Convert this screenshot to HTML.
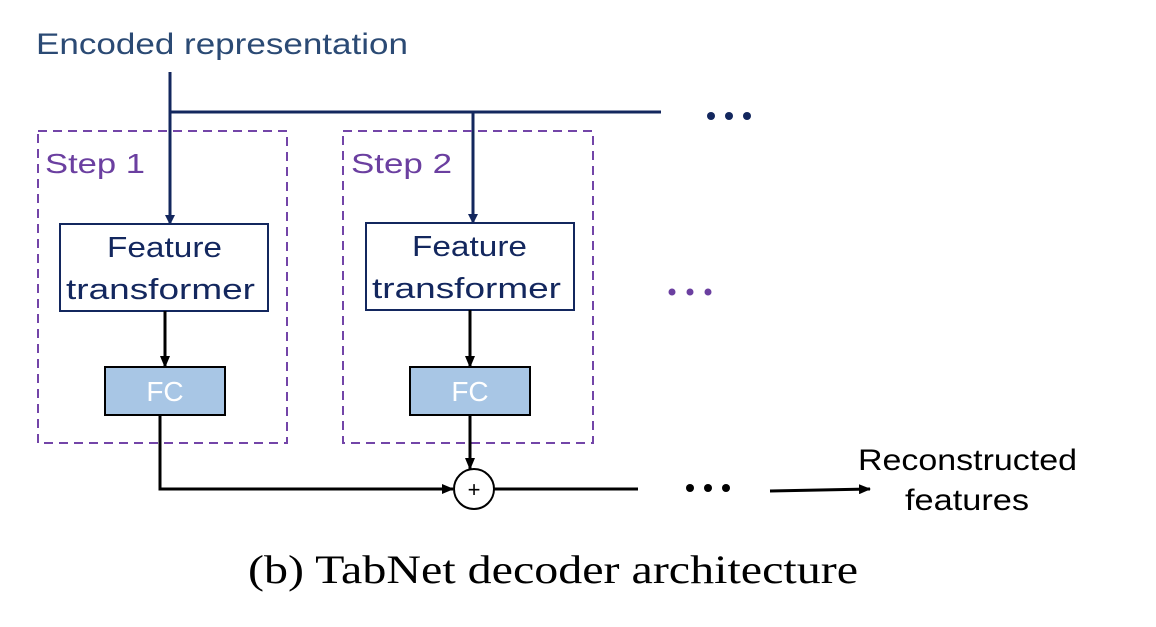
<!DOCTYPE html>
<html><head><style>
body{margin:0;background:#fff;width:1156px;height:622px;overflow:hidden}
svg text{font-family:"Liberation Sans",sans-serif}
</style></head><body>
<svg width="1156" height="622" viewBox="0 0 1156 622" xmlns="http://www.w3.org/2000/svg">
<defs>
<marker id="an" markerWidth="10" markerHeight="10" refX="9" refY="5" orient="auto" markerUnits="userSpaceOnUse"><path d="M0,0 L10,5 L0,10 z" fill="#13275e"/></marker>
<marker id="ab" markerWidth="12" markerHeight="10" refX="11" refY="5" orient="auto" markerUnits="userSpaceOnUse"><path d="M0,0 L12,5 L0,10 z" fill="#000"/></marker>
</defs>
<text x="36" y="54" font-size="30" fill="#2b4a74" textLength="372" lengthAdjust="spacingAndGlyphs">Encoded representation</text>
<g stroke="#13275e" stroke-width="3" fill="none">
<line x1="170" y1="72" x2="170" y2="224" marker-end="url(#an)"/>
<line x1="170" y1="112" x2="661" y2="112"/>
<line x1="473" y1="112" x2="473" y2="223" marker-end="url(#an)"/>
</g>
<g fill="#13275e"><circle cx="711" cy="116" r="4"/><circle cx="729" cy="116" r="4"/><circle cx="747" cy="116" r="4"/></g>
<g fill="#6b3fa0"><circle cx="672" cy="292" r="3.5"/><circle cx="690" cy="292" r="3.5"/><circle cx="708" cy="292" r="3.5"/></g>
<g stroke="#7345a8" stroke-width="2" stroke-dasharray="9,6" fill="none">
<rect x="38" y="131" width="249" height="312"/>
<rect x="343" y="131" width="250" height="312"/>
</g>
<text x="45" y="173" font-size="28" fill="#6b3fa0" textLength="100" lengthAdjust="spacingAndGlyphs">Step 1</text>
<text x="351" y="173" font-size="28" fill="#6b3fa0" textLength="101" lengthAdjust="spacingAndGlyphs">Step 2</text>
<g fill="#fff" stroke="#13275e" stroke-width="2">
<rect x="60" y="224" width="208" height="87"/>
<rect x="366" y="223" width="208" height="87"/>
</g>
<g font-size="29" fill="#13275e">
<text x="107" y="257" textLength="115" lengthAdjust="spacingAndGlyphs">Feature</text><text x="66" y="299" textLength="189" lengthAdjust="spacingAndGlyphs">transformer</text>
<text x="412" y="256" textLength="115" lengthAdjust="spacingAndGlyphs">Feature</text><text x="372" y="298" textLength="189" lengthAdjust="spacingAndGlyphs">transformer</text>
</g>
<g stroke="#000" stroke-width="3" fill="none">
<line x1="165" y1="311" x2="165" y2="367" marker-end="url(#ab)"/>
<line x1="470" y1="310" x2="470" y2="367" marker-end="url(#ab)"/>
<polyline points="160,415 160,489 453,489" marker-end="url(#ab)"/>
<line x1="470" y1="415" x2="470" y2="469" marker-end="url(#ab)"/>
<line x1="494" y1="489" x2="638" y2="489"/>
<line x1="770" y1="491" x2="870" y2="489" marker-end="url(#ab)"/>
</g>
<g fill="#a8c6e5" stroke="#000" stroke-width="2">
<rect x="105" y="367" width="120" height="48"/>
<rect x="410" y="367" width="120" height="48"/>
</g>
<g font-size="28" fill="#fff" text-anchor="middle"><text x="165" y="401">FC</text><text x="470" y="401">FC</text></g>
<circle cx="474" cy="489" r="20" fill="#fff" stroke="#000" stroke-width="2"/>
<text x="474" y="497" font-size="22" text-anchor="middle">+</text>
<g fill="#000"><circle cx="690" cy="488" r="4"/><circle cx="708" cy="488" r="4"/><circle cx="726" cy="488" r="4"/></g>
<g font-size="30" fill="#000"><text x="858" y="470" textLength="219" lengthAdjust="spacingAndGlyphs">Reconstructed</text><text x="905" y="510" textLength="124" lengthAdjust="spacingAndGlyphs">features</text></g>
<text x="248" y="583" font-size="40" textLength="610" lengthAdjust="spacingAndGlyphs" style="font-family:'Liberation Serif',serif">(b)  TabNet decoder architecture</text>
</svg>
</body></html>
